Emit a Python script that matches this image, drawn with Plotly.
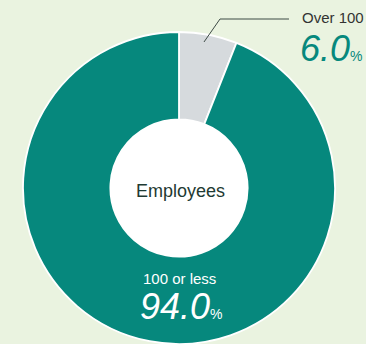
import plotly.graph_objects as go

W, H = 366, 344

labels = ["Over 100", "100 or less"]
values = [6.0, 94.0]
colors = ["#d6dadd", "#06887d"]
center_title = "Employees"

BG = "#eaf3e0"
TEAL = "#06887d"
FONT = "Liberation Sans, Arial, sans-serif"


def px(x):
    return x / W


def py(y):
    return 1 - y / H


fig = go.Figure(
    go.Pie(
        labels=labels,
        values=values,
        sort=False,
        direction="clockwise",
        rotation=0,
        hole=0.44,
        marker=dict(colors=colors, line=dict(color="white", width=1.8)),
        textinfo="none",
        hoverinfo="label+percent",
        domain=dict(x=[px(22), px(336)], y=[0, py(32)]),
        showlegend=False,
    )
)

annotations = [
    dict(x=px(180), y=py(191), text=center_title, showarrow=False,
         font=dict(family=FONT, size=18, color="#1e3a33"),
         xanchor="center", yanchor="middle"),
    dict(x=px(179), y=py(278), text=labels[1], showarrow=False,
         font=dict(family=FONT, size=15, color="white"),
         xanchor="center", yanchor="middle"),
    dict(x=px(138), y=py(306),
         text="<i>%.1f</i><span style='font-size:14px'>%%</span>" % values[1],
         showarrow=False, font=dict(family=FONT, size=36, color="white"),
         xanchor="left", yanchor="middle"),
    dict(x=px(300), y=py(18), text=labels[0], showarrow=False,
         font=dict(family=FONT, size=15, color="#333333"),
         xanchor="left", yanchor="middle"),
    dict(x=px(298), y=py(48),
         text="<i>%.1f</i><span style='font-size:14px'>%%</span>" % values[0],
         showarrow=False, font=dict(family=FONT, size=36, color=TEAL),
         xanchor="left", yanchor="middle"),
]

leader = "M %f,%f L %f,%f L %f,%f" % (px(204), py(42), px(220), py(19), px(289), py(19))

cx, cy, r = 179, 188, 70
fig.update_layout(
    width=W, height=H,
    margin=dict(l=0, r=0, t=0, b=0),
    paper_bgcolor=BG, plot_bgcolor=BG,
    annotations=annotations,
    shapes=[
        dict(type="circle", xref="paper", yref="paper", layer="below",
             x0=px(cx - r), x1=px(cx + r), y0=py(cy + r), y1=py(cy - r),
             fillcolor="white", line=dict(width=0)),
        dict(type="path", xref="paper", yref="paper", path=leader,
             line=dict(color="#3d4a45", width=1)),
    ],
)

fig.write_html("out.html", config=dict(displayModeBar=False))
